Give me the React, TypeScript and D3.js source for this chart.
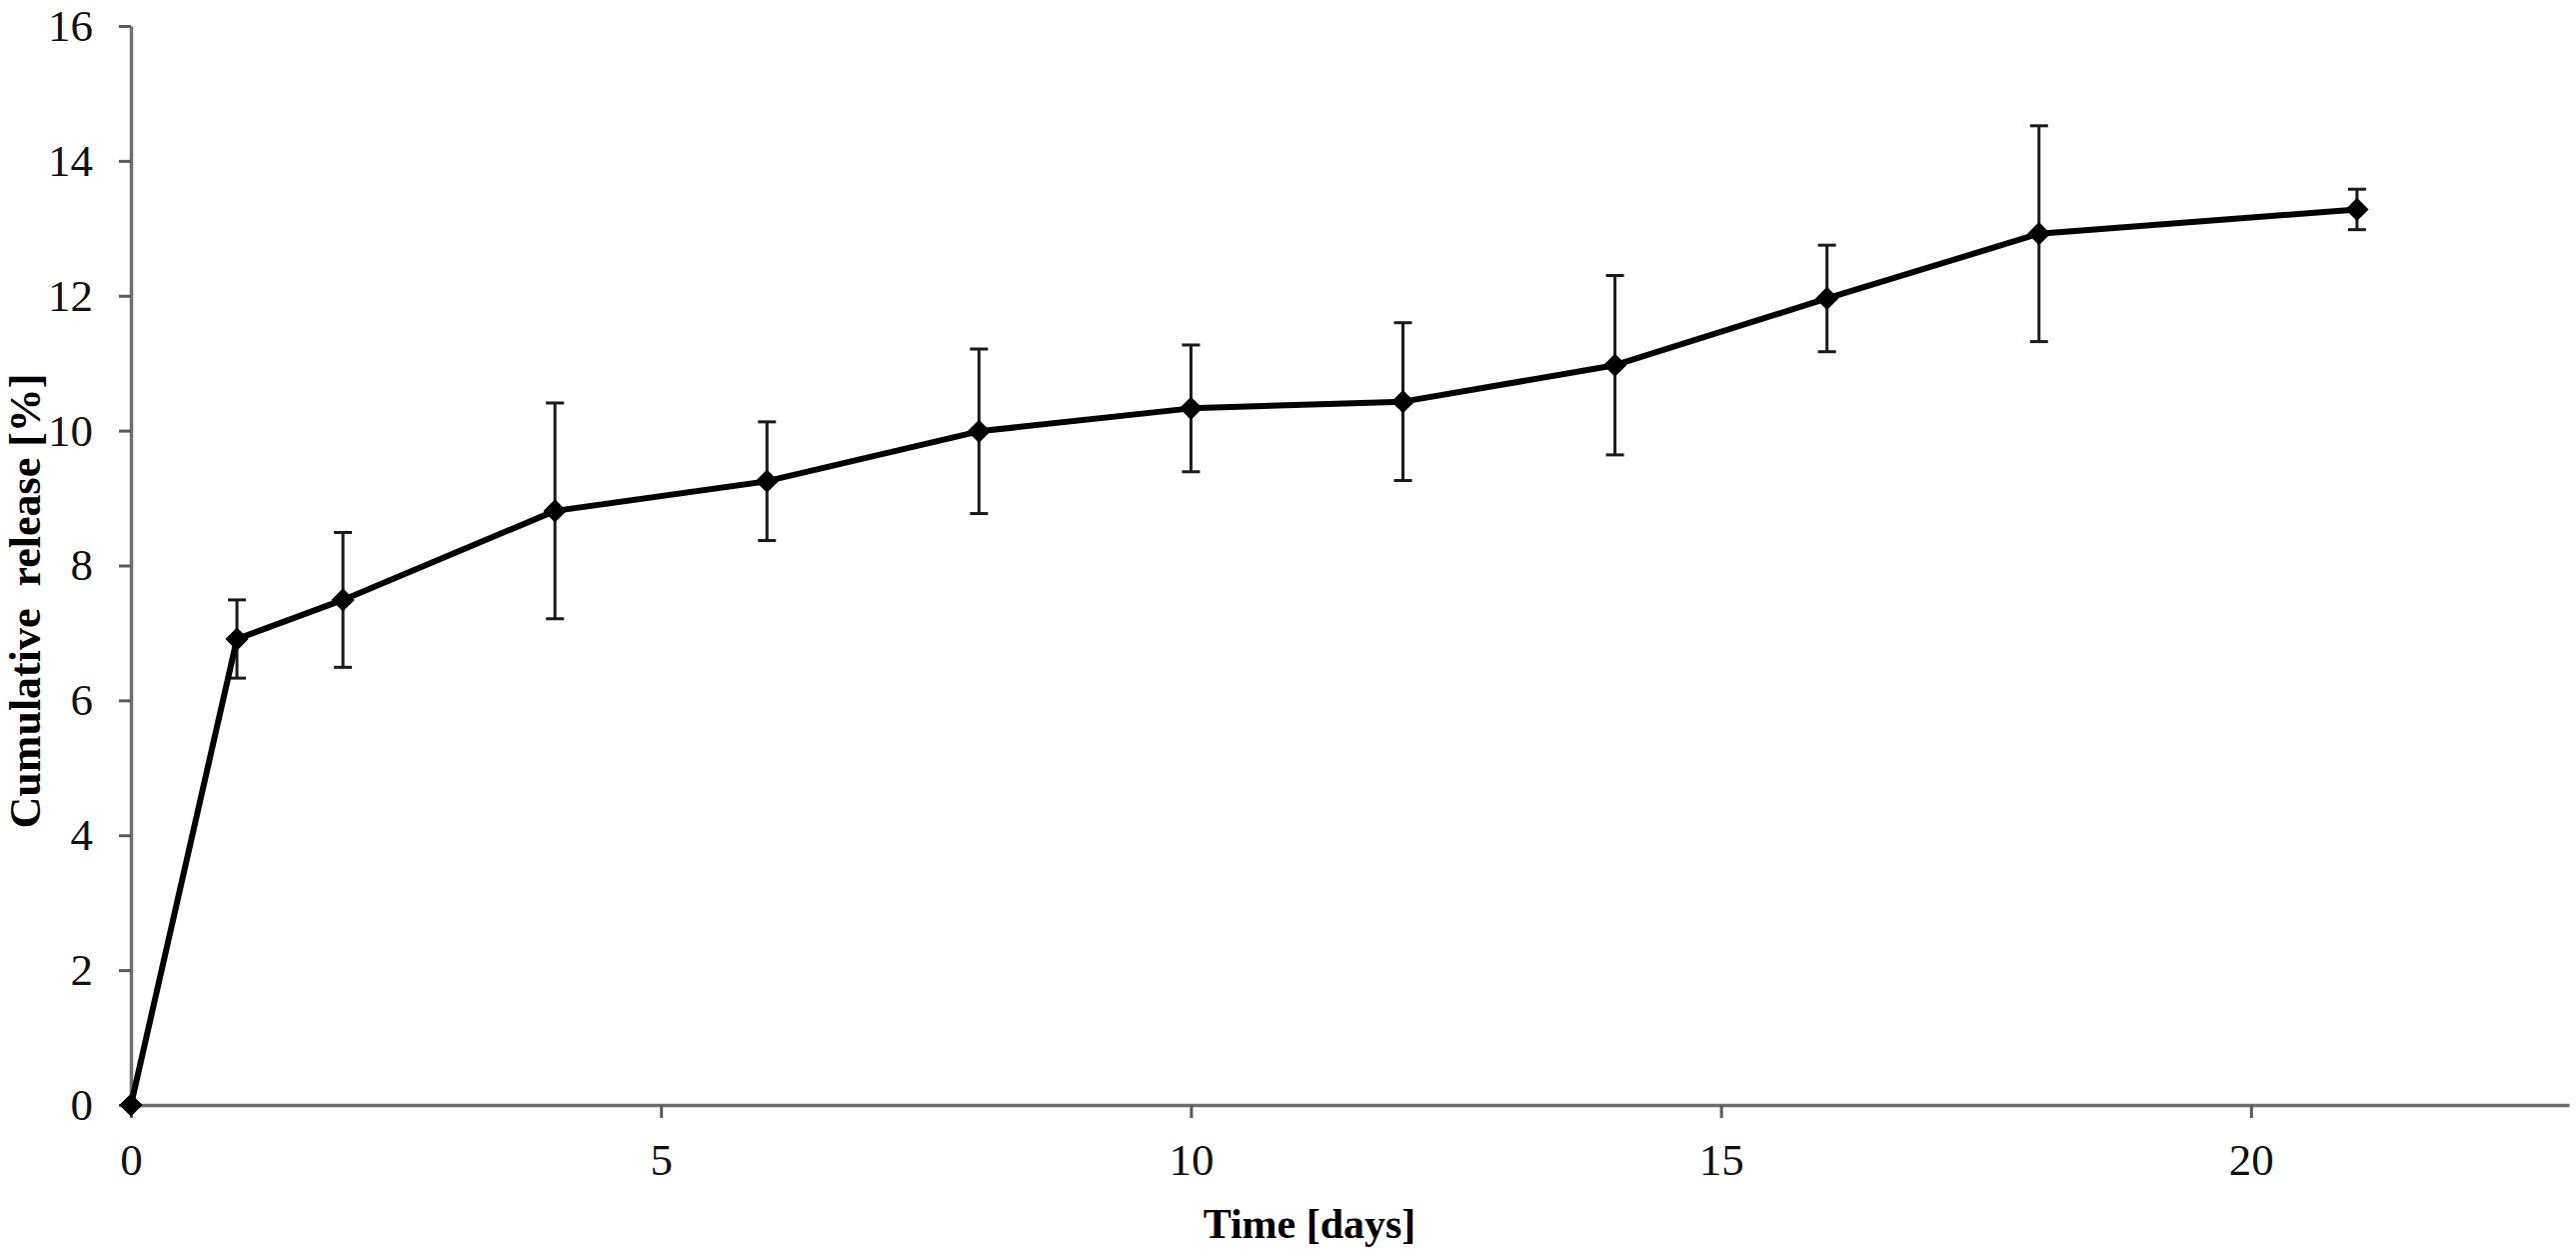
import React, { useEffect, useRef } from 'react';
import * as d3 from 'd3';

// sampling days and mean cumulative release with standard deviation
const days = [0, 1, 2, 4, 6, 8, 10, 12, 14, 16, 18, 21];
const release = [0, 6.91, 7.49, 8.81, 9.25, 9.99, 10.33, 10.43, 10.97, 11.96, 12.92, 13.28];
const sd = [0, 0.58, 1.0, 1.6, 0.88, 1.22, 0.94, 1.17, 1.33, 0.79, 1.6, 0.3];

const xTicks = [0, 5, 10, 15, 20];
const yTicks = [0, 2, 4, 6, 8, 10, 12, 14, 16];

type Point = { day: number; value: number; err: number };

const App: React.FC = () => {
  const container = useRef<HTMLDivElement | null>(null);

  useEffect(() => {
    document.body.style.margin = '0';
    if (!container.current) return;

    const width = 2577;
    const height = 1255;
    const left = 131;
    const right = 2570;
    const top = 26;
    const bottom = 1105;
    const font = '"Liberation Serif", "Times New Roman", serif';

    const data: Point[] = days.map((d, i) => ({ day: d, value: release[i], err: sd[i] }));

    const x = d3.scaleLinear().domain([0, 23]).range([left, right]);
    const y = d3.scaleLinear().domain([0, 16]).range([bottom, top]);

    const svg = d3
      .select(container.current)
      .append('svg')
      .attr('width', width)
      .attr('height', height)
      .style('display', 'block')
      .style('background', '#fff');

    // axes
    const yAxis = svg
      .append('g')
      .attr('transform', `translate(${left},0)`)
      .call(d3.axisLeft(y).tickValues(yTicks).tickSize(12).tickSizeOuter(0).tickPadding(26));

    const xAxis = svg
      .append('g')
      .attr('transform', `translate(0,${bottom})`)
      .call(d3.axisBottom(x).tickValues(xTicks).tickSize(13).tickSizeOuter(0).tickPadding(25));

    [yAxis, xAxis].forEach(g => {
      g.select('.domain').attr('stroke', '#6e6e6e').attr('stroke-width', 3.5);
      g.selectAll('.tick line').attr('stroke', '#5a5a5a').attr('stroke-width', 3);
      g.selectAll('.tick text')
        .attr('fill', '#111')
        .style('font-family', font)
        .style('font-size', '45px');
    });

    // error bars
    const bars = svg.append('g').attr('stroke', '#1a1a1a').attr('stroke-width', 3);
    const withErr = data.filter(d => d.err > 0);
    bars
      .selectAll('line.v')
      .data(withErr)
      .enter()
      .append('line')
      .attr('x1', d => x(d.day))
      .attr('x2', d => x(d.day))
      .attr('y1', d => y(d.value + d.err))
      .attr('y2', d => y(d.value - d.err));
    ['up', 'down'].forEach(side => {
      bars
        .selectAll(`line.cap-${side}`)
        .data(withErr)
        .enter()
        .append('line')
        .attr('x1', d => x(d.day) - 9)
        .attr('x2', d => x(d.day) + 9)
        .attr('y1', d => y(side === 'up' ? d.value + d.err : d.value - d.err))
        .attr('y2', d => y(side === 'up' ? d.value + d.err : d.value - d.err));
    });

    // series line
    const line = d3
      .line<Point>()
      .x(d => x(d.day))
      .y(d => y(d.value));

    svg
      .append('path')
      .datum(data)
      .attr('d', line)
      .attr('fill', 'none')
      .attr('stroke', '#000')
      .attr('stroke-width', 6)
      .attr('stroke-linejoin', 'round');

    // diamond markers
    const diamond = d3.symbol().type(d3.symbolSquare).size(270);
    svg
      .selectAll('path.marker')
      .data(data)
      .enter()
      .append('path')
      .attr('d', diamond)
      .attr('transform', d => `translate(${x(d.day)},${y(d.value)}) rotate(45)`)
      .attr('fill', '#000');

    // axis titles
    svg
      .append('text')
      .attr('x', 1310)
      .attr('y', 1238)
      .attr('text-anchor', 'middle')
      .style('font-family', font)
      .style('font-size', '42px')
      .style('font-weight', 'bold')
      .attr('fill', '#000')
      .text('Time [days]');

    svg
      .append('text')
      .attr('transform', 'translate(40,601) rotate(-90)')
      .attr('text-anchor', 'middle')
      .style('font-family', font)
      .style('font-size', '44px')
      .style('font-weight', 'bold')
      .style('white-space', 'pre')
      .attr('fill', '#000')
      .text('Cumulative  release [%]');

    return () => {
      svg.remove();
    };
  }, []);

  return <div ref={container} />;
};

export default App;
